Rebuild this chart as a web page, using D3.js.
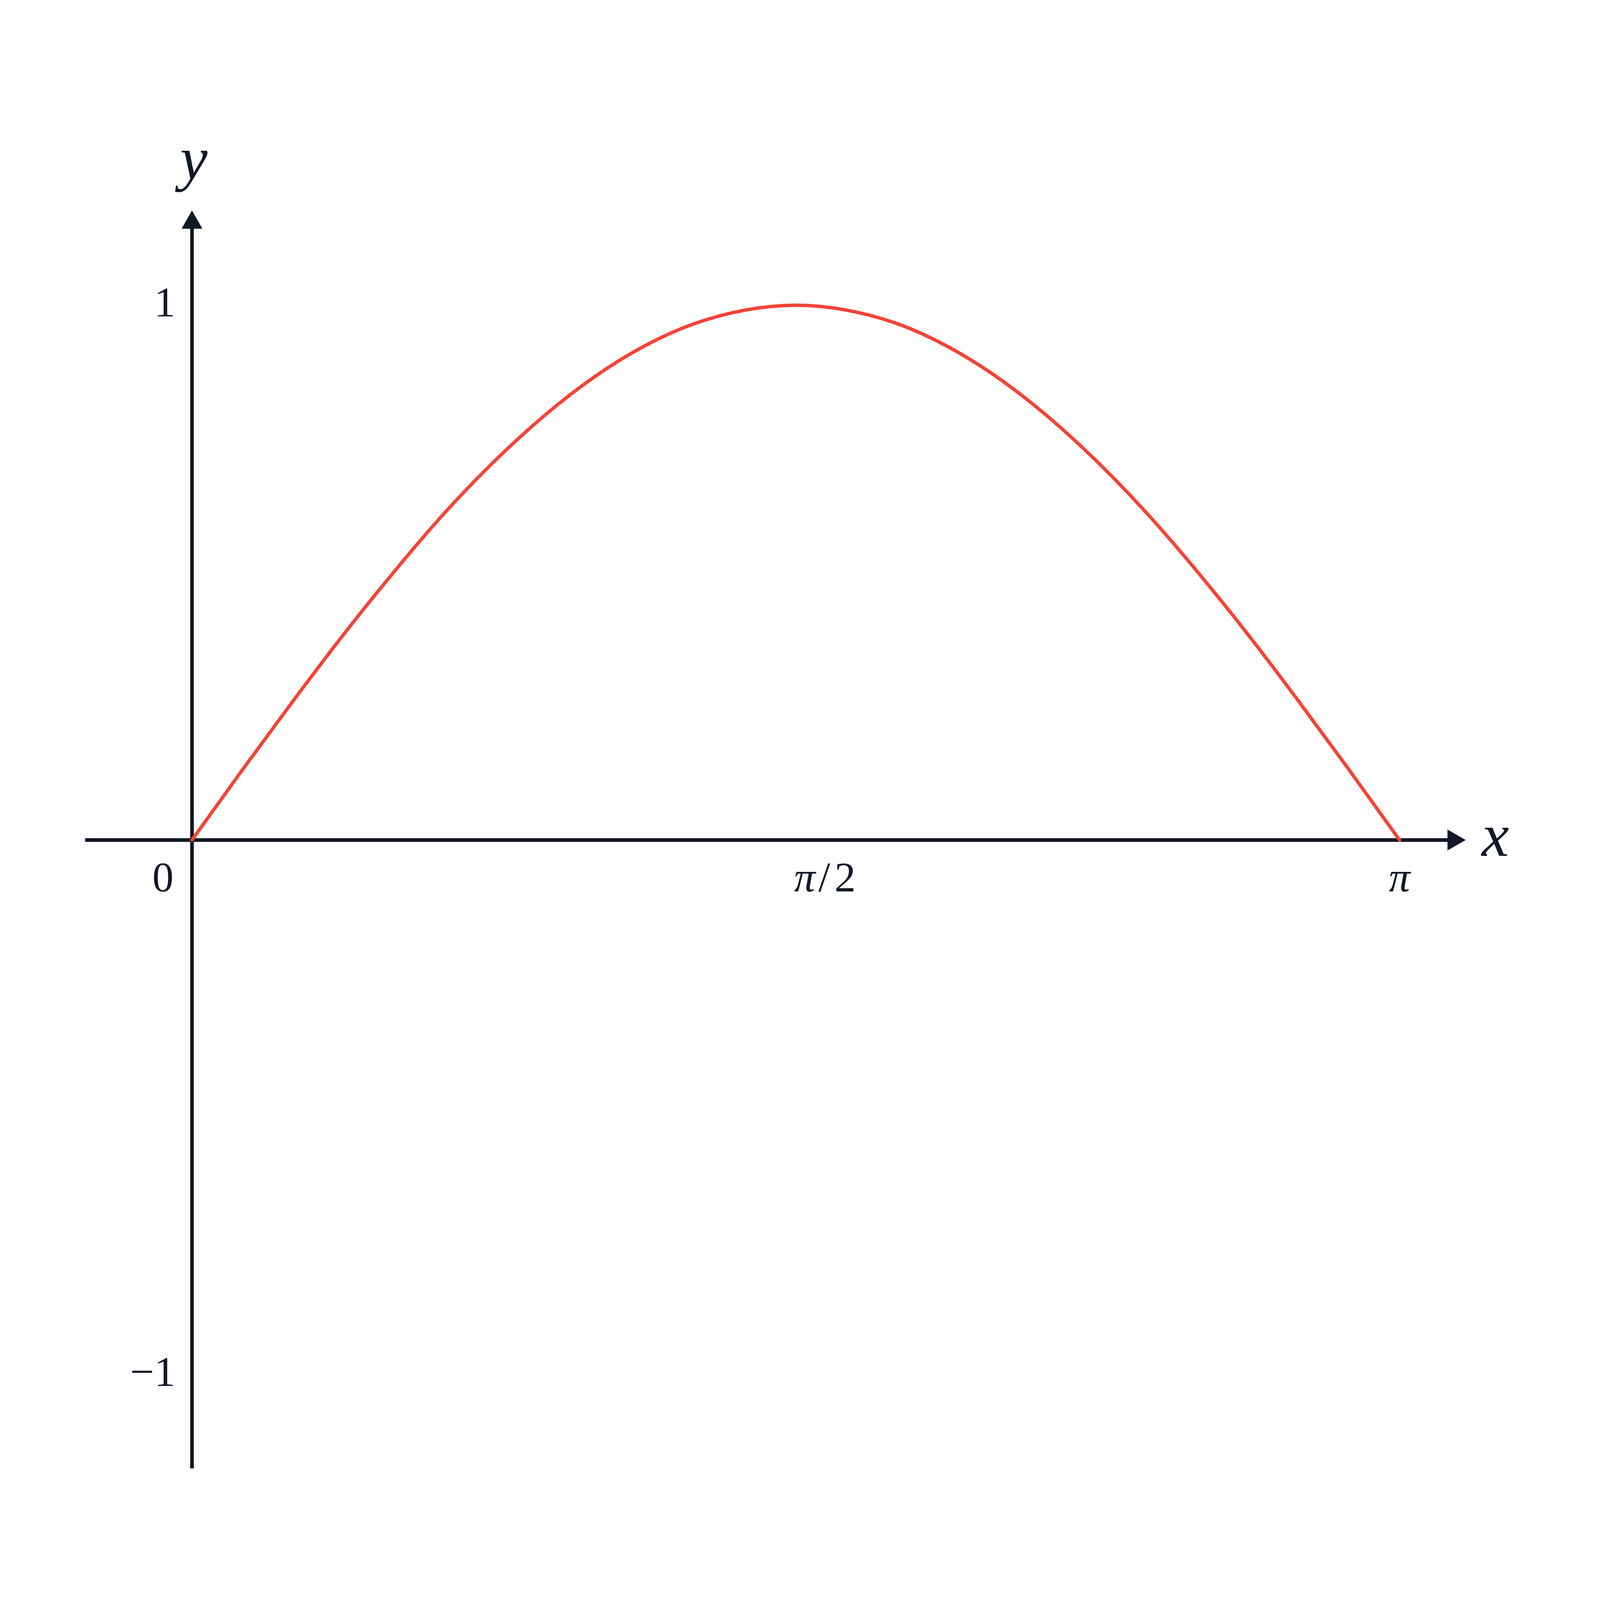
<!DOCTYPE html>
<html>
<head>
<meta charset="utf-8">
<script src="https://cdn.jsdelivr.net/npm/d3@7"></script>
<style>
  html, body { margin: 0; padding: 0; background: #fff; width: 100%; height: 100%; overflow: hidden; }
  svg { display: block; width: 100vw; height: 100vh; }
</style>
</head>
<body>
<svg id="chart" viewBox="0 0 5200 4620" preserveAspectRatio="xMidYMid meet"></svg>
<script>
// values: the red curve (x in radians)
const curveX = [0, 0.131, 0.262, 0.393, 0.524, 0.654, 0.785, 0.916, 1.047, 1.178, 1.309, 1.44, 1.571,
  1.702, 1.833, 1.963, 2.094, 2.225, 2.356, 2.487, 2.618, 2.749, 2.88, 3.011, 3.142];
const curveY = [0, 0.131, 0.259, 0.383, 0.5, 0.609, 0.707, 0.793, 0.866, 0.924, 0.966, 0.991, 1,
  0.991, 0.966, 0.924, 0.866, 0.793, 0.707, 0.609, 0.5, 0.383, 0.259, 0.131, 0];

const xTicks = [0, Math.PI / 2, Math.PI];
const xTickLabels = ["0", "π/2", "π"];
const yTicks = [1, -1];
const yTickLabels = ["1", "−1"];

// how far the arrowed axes reach
const xExtent = [-0.278, 3.314];
const yExtent = [-1.175, 1.177];

const ink = "#111827";
const red = "#f44336";
const font = "'Liberation Serif', 'Times New Roman', serif";
const arrow = 59, arrowHalf = 34;

const svg = d3.select("#chart");

svg.append("rect").attr("width", 5200).attr("height", 4620).attr("fill", "#fff");

const x = d3.scaleLinear().domain([0, Math.PI]).range([624, 4548]);
const y = d3.scaleLinear().domain([-1, 1]).range([4178, 702]);

const x0 = x(0), y0 = y(0);

// axis lines
svg.append("line")
  .attr("x1", x(xExtent[0])).attr("x2", x(xExtent[1]) - arrow + 2)
  .attr("y1", y0).attr("y2", y0)
  .attr("stroke", ink).attr("stroke-width", 12);

svg.append("line")
  .attr("x1", x0).attr("x2", x0)
  .attr("y1", y(yExtent[0])).attr("y2", y(yExtent[1]) + arrow - 2)
  .attr("stroke", ink).attr("stroke-width", 12);

// arrow heads
const xt = x(xExtent[1]), yt = y(yExtent[1]);
svg.append("path")
  .attr("d", `M${xt},${y0}L${xt - arrow},${y0 - arrowHalf}L${xt - arrow},${y0 + arrowHalf}Z`)
  .attr("fill", ink);
svg.append("path")
  .attr("d", `M${x0},${yt}L${x0 - arrowHalf},${yt + arrow}L${x0 + arrowHalf},${yt + arrow}Z`)
  .attr("fill", ink);

// the curve
const pts = curveX.map((d, i) => [d, curveY[i]]);
const line = d3.line()
  .x(d => x(d[0]))
  .y(d => y(d[1]))
  .curve(d3.curveNatural);

svg.append("path")
  .datum(pts)
  .attr("d", line)
  .attr("fill", "none")
  .attr("stroke", red)
  .attr("stroke-width", 11)
  .attr("stroke-linecap", "round")
  .attr("stroke-linejoin", "round");

// y tick labels
const yAxis = svg.append("g")
  .attr("transform", `translate(${x0},0)`)
  .call(d3.axisLeft(y).tickValues(yTicks).tickSize(0).tickPadding(54)
    .tickFormat((d, i) => yTickLabels[i]));
yAxis.select(".domain").remove();
yAxis.selectAll(".tick text")
  .attr("dy", "0.26em")
  .attr("fill", ink)
  .style("font-family", font)
  .style("font-size", "138px");

// x tick labels
const xAxis = svg.append("g")
  .attr("transform", `translate(0,${y0})`)
  .call(d3.axisBottom(x).tickValues(xTicks).tickSize(0).tickPadding(69)
    .tickFormat((d, i) => xTickLabels[i]));
xAxis.select(".domain").remove();
xAxis.selectAll(".tick text")
  .attr("fill", ink)
  .style("font-family", font)
  .style("font-size", "138px")
  .each(function (d, i) {
    const t = d3.select(this);
    const label = xTickLabels[i];
    if (label === "0") {
      t.attr("x", -95);
    } else if (label === "π/2") {
      t.attr("text-anchor", "start").attr("x", -6).text(null);
      t.append("tspan").style("font-style", "italic").text("π");
      t.append("tspan").attr("dx", 10).text("/");
      t.append("tspan").attr("dx", 14).text("2");
    } else {
      t.style("font-style", "italic");
    }
  });

// axis names
svg.append("text")
  .attr("x", xt + 52).attr("y", y0 + 52)
  .attr("fill", ink)
  .style("font-family", font)
  .style("font-style", "italic")
  .style("font-size", "200px")
  .text("x");

svg.append("text")
  .attr("x", x0 + 6).attr("y", yt - 102)
  .attr("text-anchor", "middle")
  .attr("fill", ink)
  .style("font-family", font)
  .style("font-style", "italic")
  .style("font-size", "200px")
  .text("y");
</script>
</body>
</html>
